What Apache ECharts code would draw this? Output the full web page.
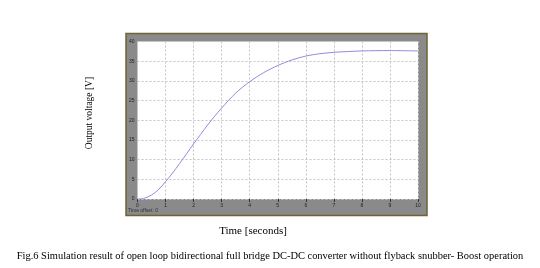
<!DOCTYPE html>
<html><head><meta charset="utf-8">
<script src="https://cdn.jsdelivr.net/npm/echarts@6/dist/echarts.min.js"></script>
<style>html,body{margin:0;padding:0;background:#fff}#c{width:540px;height:268px}</style>
</head><body><div id="c"></div>
<script>
var times = [0,0.25,0.5,0.75,1,1.25,1.5,1.75,2,2.25,2.5,2.75,3,3.5,4,4.5,5,5.5,6,6.5,7,7.5,8,9,10];
var volts = [0,0.2,1.0,2.4,4.4,6.6,9.0,11.5,14.0,16.4,18.8,21.0,23.1,26.9,29.8,32.1,33.9,35.3,36.3,36.9,37.25,37.45,37.6,37.7,37.6];
var yTicks = [0,5,10,15,20,25,30,35,40];
var xTicks = [0,1,2,3,4,5,6,7,8,9,10];
var yName = 'Output voltage [V]';
var xName = 'Time [seconds]';
var caption = 'Fig.6 Simulation result of open loop bidirectional full bridge DC-DC converter without flyback snubber- Boost operation';

var chart = echarts.init(document.getElementById('c'), null, {renderer:'canvas'});
var serif = '"Liberation Serif","DejaVu Serif",serif';
chart.setOption({
  animation:false,
  backgroundColor:'#ffffff',
  graphic:[
    {type:'rect', shape:{x:126,y:33.5,width:301,height:182}, style:{fill:'#8a8a8a', stroke:'#6e6432', lineWidth:1.5}, z:-10},
    {type:'text', x:128, y:208, style:{text:'Time offset: 0', font:'5px sans-serif', fill:'#333'}},
    {type:'text', x:270, y:256, style:{text:caption, font:'10.45px '+serif, fill:'#000', align:'center', verticalAlign:'middle'}},
    {type:'text', x:253, y:231, style:{text:xName, font:'11px '+serif, fill:'#000', align:'center', verticalAlign:'middle'}},
    {type:'text', x:89, y:113, rotation:Math.PI/2, style:{text:yName, font:'9.5px '+serif, fill:'#000', align:'center', verticalAlign:'middle'}}
  ],
  grid:{left:137.5, right:122, top:41.5, bottom:69, show:true, backgroundColor:'#ffffff', borderWidth:0},
  xAxis:{type:'value', min:0, max:10, interval:1,
    axisLine:{show:false},
    axisTick:{show:true, inside:false, length:3, lineStyle:{color:'#333'}},
    axisLabel:{fontSize:5, color:'#222', margin:4},
    splitLine:{show:true, lineStyle:{color:'#c4c4c4', type:[2,2], width:1}}
  },
  yAxis:{type:'value', min:0, max:40, interval:5,
    axisLine:{show:false},
    axisTick:{show:false},
    axisLabel:{fontSize:5, color:'#222', margin:3},
    splitLine:{show:true, lineStyle:{color:'#c4c4c4', type:[2,2], width:1}}
  },
  series:[{type:'line', data:times.map(function(t,i){return [t, volts[i]];}),
    smooth:0.3, symbol:'none', lineStyle:{color:'#8c8ce0', width:1}}]
});
</script></body></html>
